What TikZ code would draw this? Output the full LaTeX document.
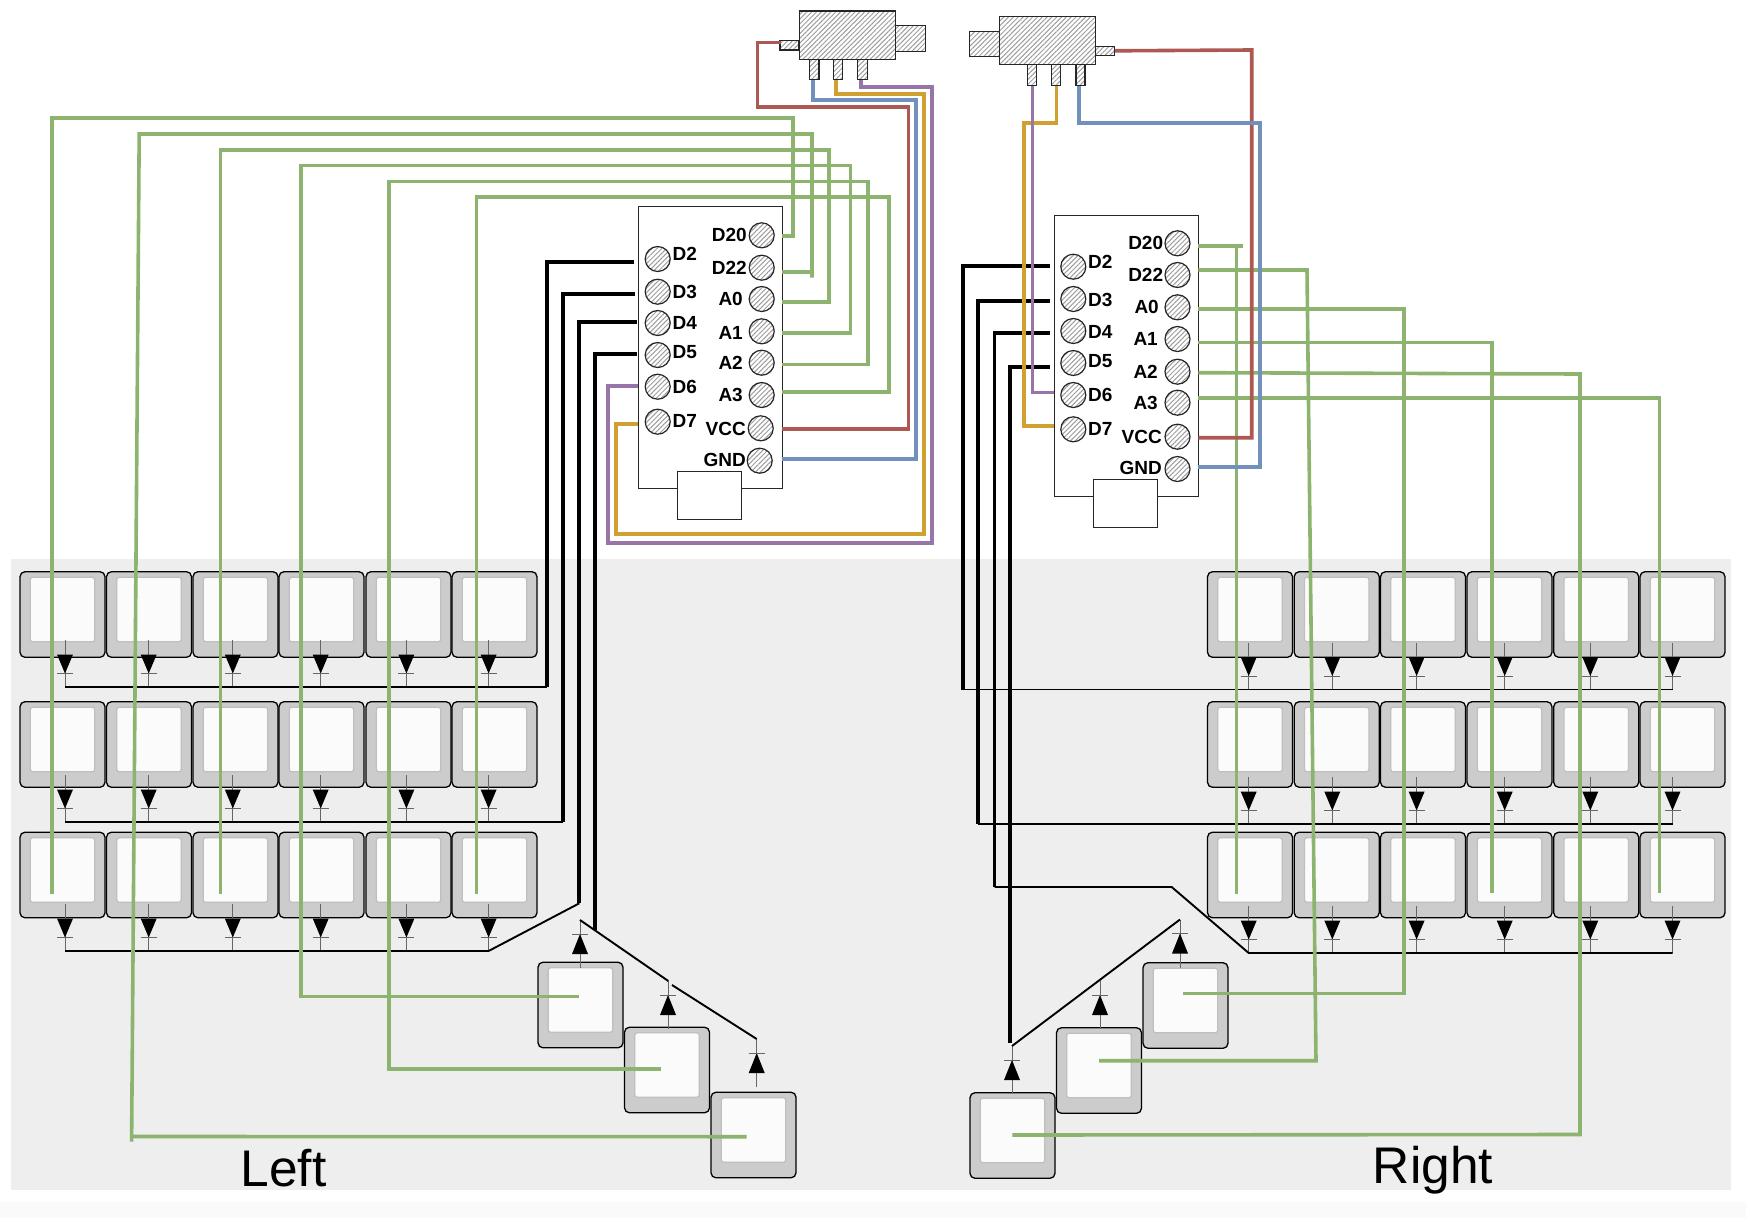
\documentclass[tikz,border=0pt]{standalone}
\usepackage{fontspec}
\setmainfont{Liberation Sans}
\usetikzlibrary{patterns.meta}

\definecolor{wiregreen}{HTML}{8DB46F}
\definecolor{wirered}{HTML}{AD5852}
\definecolor{wireblue}{HTML}{7290BC}
\definecolor{wireorange}{HTML}{D0A030}
\definecolor{wirepurple}{HTML}{9775A8}

\tikzset{
    keycap/.style={draw=black, line width=1.3pt, fill=black!20, rounded corners=5pt, inner sep=0pt, minimum width=85pt, minimum height=85.6pt},
    keytop/.style={draw=black!25, line width=1.2pt, fill=black!1.5, rounded corners=2.5pt, inner sep=0pt, minimum width=64.5pt, minimum height=64.5pt},
    hatchbox/.style={draw=black!85, line width=1.1pt, inner sep=0pt, preaction={fill=white}, pattern={Lines[angle=45,distance=3.4pt,line width=1pt]}, pattern color=black!38},
    pinpad/.style={hatchbox, circle, line width=1.2pt, minimum size=25pt},
    pinname/.style={inner sep=0pt, font=\bfseries\fontsize{19}{19}\selectfont},
    sidename/.style={inner sep=0pt, anchor=base, font=\fontsize{51.5}{51.5}\selectfont},
    board/.style={draw=black!85, line width=1pt, fill=white, inner sep=0pt},
    diodestem/.style={draw=black!60, line width=1pt},
    rowline/.style={draw=black, line width=1.9pt},
    heavyline/.style={draw=black, line width=3.8pt},
    greenwire/.style={draw=wiregreen, line width=3.6pt},
    redwire/.style={draw=wirered, line width=3.6pt},
    bluewire/.style={draw=wireblue, line width=3.6pt},
    orangewire/.style={draw=wireorange, line width=3.6pt},
    purplewire/.style={draw=wirepurple, line width=3.6pt}
}

\newcommand{\kbkey}[3]{%
    \node[keycap] (#1) at (#2,#3) {};
    \node[keytop] (#1t) at (#2,#3-5) {};
}
\newcommand{\downdiode}[3]{%
    \draw[diodestem] (#2,#3) -- (#2,#3+47);
    \fill (#2-8,#3+14.5) -- (#2+8,#3+14.5) -- (#2,#3+33.5) -- cycle;
    \draw[diodestem] (#2-8,#3+33.5) -- (#2+8,#3+33.5);
    \coordinate (#1) at (#2,#3+47);
}
\newcommand{\updiode}[3]{%
    \draw[diodestem] (#2,#3) -- (#2,#3+48);
    \fill (#2-8,#3+34) -- (#2+8,#3+34) -- (#2,#3+14) -- cycle;
    \draw[diodestem] (#2-8,#3+14) -- (#2+8,#3+14);
    \coordinate (#1) at (#2,#3);
}

\begin{document}
\begin{tikzpicture}[x=1pt,y=-1pt]
    \useasboundingbox (0,0) rectangle (1746,1218);

    % Draw the backgrounds
    \fill[black!6.7] (11,558.5) rectangle (1731,1190);
    \fill[black!2] (0,1202) rectangle (1746,1218);

    % Define keys
    \foreach \row/\ky in {1/614.5,2/744.5,3/875}{
        \foreach \col/\kx in {1/62.5,2/149,3/235.5,4/321.5,5/408.5,6/494.5}{
            \kbkey{lk\row\col}{\kx}{\ky}
        }
        \foreach \col/\kx in {1/1250,2/1336.7,3/1423,4/1509.5,5/1596.2,6/1682.5}{
            \kbkey{rk\row\col}{\kx}{\ky}
        }
    }
    \kbkey{lt1}{580.5}{1005}
    \kbkey{lt2}{667}{1070}
    \kbkey{lt3}{753.5}{1135}
    \kbkey{rt1}{1012.5}{1135.5}
    \kbkey{rt2}{1099}{1070.5}
    \kbkey{rt3}{1185.5}{1005.5}

    % Draw diodes
    \foreach \row/\dy in {1/640,2/775,3/904}{
        \foreach \col/\dx in {1/65,2/148.7,3/232.8,4/320.7,5/406.4,6/488.6}{
            \downdiode{ld\row\col}{\dx}{\dy}
        }
    }
    \foreach \row/\dy in {1/642.5,2/777,3/906}{
        \foreach \col/\dx in {1/1248.7,2/1332.3,3/1416.6,4/1504.7,5/1590.3,6/1672.5}{
            \downdiode{rd\row\col}{\dx}{\dy}
        }
    }
    \updiode{ltd1}{580}{920}
    \updiode{ltd2}{668}{981}
    \updiode{ltd3}{756.7}{1039}
    \updiode{rtd1}{1012}{1046}
    \updiode{rtd2}{1100}{981}
    \updiode{rtd3}{1180}{919.5}

    % Define boards
    \node[board, minimum width=144pt, minimum height=281.6pt] (lboard) at (710.3,347.5) {};
    \node[board, minimum width=64pt, minimum height=48pt] (lusb) at (709.7,495) {};
    \node[board, minimum width=144pt, minimum height=281.6pt] (rboard) at (1126.3,355.9) {};
    \node[board, minimum width=64pt, minimum height=48pt] (rusb) at (1125.7,503.2) {};

    % Define pins
    \foreach \nm/\py/\ty in {D2/259/254.3,D3/291.7/291.7,D4/323/323.3,D5/355/352.3,D6/386.7/386.7,D7/421.7/420.7}{
        \node[pinpad] (l\nm) at (657.7,\py) {};
        \node[pinname, anchor=west] (l\nm t) at (672.5,\ty) {\nm};
    }
    \foreach \nm/\px/\py/\tx/\ty in {D20/761.7/235.3/747/235.3,D22/761.7/267.7/747/267.7,A0/761.7/299/743/299,A1/761.7/331.3/743/332.7,A2/761.7/362.7/743/363,A3/761.7/395/743/395,VCC/760.7/428.3/746/429,GND/759.7/460.7/746/460}{
        \node[pinpad] (l\nm) at (\px,\py) {};
        \node[pinname, anchor=east] (l\nm t) at (\tx,\ty) {\nm};
    }
    \foreach \nm/\py/\ty in {D2/266.7/262.3,D3/299/300,D4/331/331.7,D5/363/360.7,D6/395/395,D7/429.3/429.3}{
        \node[pinpad] (r\nm) at (1073.3,\py) {};
        \node[pinname, anchor=west] (r\nm t) at (1088,\ty) {\nm};
    }
    \foreach \nm/\py/\tx/\ty in {D20/243.3/1163.3/243.3,D22/275/1163.3/275,A0/307.3/1159/307.3,A1/339/1158/339,A2/371.7/1158/371.7,A3/402.7/1158/402.7,VCC/436.7/1162/437,GND/469/1162/468}{
        \node[pinpad] (r\nm) at (1177.5,\py) {};
        \node[pinname, anchor=east] (r\nm t) at (\tx,\ty) {\nm};
    }

    % Define switches
    \node[hatchbox, minimum width=96.3pt, minimum height=48.3pt] (lsw) at (847.2,35.1) {};
    \node[hatchbox, minimum width=29.7pt, minimum height=26pt] (lswnub) at (910.2,38.7) {};
    \node[hatchbox, minimum width=19pt, minimum height=9.3pt] (lswterm) at (789.5,45.3) {};
    \node[hatchbox, minimum width=9.5pt, minimum height=20pt] (lswa) at (814.2,69.3) {};
    \node[hatchbox, minimum width=9.5pt, minimum height=20pt] (lswb) at (838,69.3) {};
    \node[hatchbox, minimum width=9.5pt, minimum height=20pt] (lswc) at (862.4,69.3) {};
    \node[hatchbox, minimum width=96pt, minimum height=47.6pt] (rsw) at (1047.3,40.5) {};
    \node[hatchbox, minimum width=30pt, minimum height=25.7pt] (rswnub) at (984.3,43.9) {};
    \node[hatchbox, minimum width=19pt, minimum height=8.5pt] (rswterm) at (1104.8,50.8) {};
    \node[hatchbox, minimum width=9pt, minimum height=20.7pt] (rswa) at (1032.3,74.7) {};
    \node[hatchbox, minimum width=9pt, minimum height=20.7pt] (rswb) at (1056.4,74.7) {};
    \node[hatchbox, minimum width=9pt, minimum height=20.7pt] (rswc) at (1080.5,74.7) {};

    % Define wire ends
    \coordinate (lD2w) at (634.3,262);
    \coordinate (lD3w) at (635,294);
    \coordinate (lD4w) at (637,322);
    \coordinate (lD5w) at (637,354);
    \coordinate (lrow1) at (546.7,687);
    \coordinate (lrow2) at (563,822);
    \coordinate (lrow3) at (579.3,903.3);
    \coordinate (ldrop) at (595,930);
    \coordinate (lbend) at (668.3,981);
    \coordinate (rD2w) at (1050,266);
    \coordinate (rD3w) at (1050,300.7);
    \coordinate (rD4w) at (1050,332.7);
    \coordinate (rD5w) at (1050,366.7);
    \coordinate (rrow1) at (962.7,689.5);
    \coordinate (rrow2) at (978.3,824);
    \coordinate (rrow3) at (994.5,887);
    \coordinate (rdrop) at (1010.3,1043);
    \coordinate (rbend) at (1171.7,887);

    \coordinate (lkw1) at (51.7,894);
    \coordinate (lkw3) at (220.5,894);
    \coordinate (lkw6) at (476.3,894);
    \coordinate (ltw1) at (579,996.5);
    \coordinate (ltw2) at (660.7,1068.7);
    \coordinate (ltw3) at (746.7,1136.7);
    \coordinate (rkw1) at (1236.6,894.3);
    \coordinate (rkw4) at (1492,893.3);
    \coordinate (rkw6) at (1659.4,893.3);
    \coordinate (rtw1) at (1012.3,1135);
    \coordinate (rtw2) at (1099,1060.7);
    \coordinate (rtw3) at (1183.3,993.3);

    % Draw row lines
    \draw[rowline] (ld11) -- (lrow1);
    \draw[rowline] (ld21) -- (lrow2);
    \draw[rowline] (ld31) -- (ld36) -- (lrow3);
    \draw[rowline] (ltd1) -- (lbend);
    \draw[rowline] (672,985) -- (ltd3);
    \draw[rowline] (rrow1) -- (rd16);
    \draw[rowline] (rrow2) -- (rd26);
    \draw[rowline] (rrow3) -- (rbend) -- (rd31) -- (rd36);
    \draw[rowline] (rtd1) -- (rtd3);
    \draw[heavyline] (lD2w) -| (lrow1);
    \draw[heavyline] (lD3w) -| (lrow2);
    \draw[heavyline] (lD4w) -| (lrow3);
    \draw[heavyline] (lD5w) -| (ldrop);
    \draw[heavyline] (rD2w) -| (rrow1);
    \draw[heavyline] (rD3w) -| (rrow2);
    \draw[heavyline] (rD4w) -| (rrow3);
    \draw[heavyline] (rD5w) -| (rdrop);

    % Draw left mappings
    \draw[greenwire] (782.3,235.7) -| (792.7,118) -| (lkw1);
    \draw[greenwire] (782.3,271.7) -- (812,271.7);
    \draw[greenwire] (812,277.7) -- (812,134) -- (139.2,134) -- (131.6,1141.7);
    \draw[greenwire] (131.6,1136.5) -- (ltw3);
    \draw[greenwire] (782.3,302) -| (828.7,149.7) -| (lkw3);
    \draw[greenwire] (782.3,332.7) -| (850.3,165.3) -| (300.7,996.5) -- (ltw1);
    \draw[greenwire] (782.3,364.3) -| (868,181.3) -| (388.7,1068.7) -- (ltw2);
    \draw[greenwire] (782.3,391.7) -| (889,196.7) -| (lkw6);
    \draw[redwire] (782.3,429) -| (908.3,106.7) -| (757.3,42.3) -- (780.7,42.3);
    \draw[bluewire] (782.3,459) -| (916,100) -| ([xshift=-1.5pt]lswa.south);
    \draw[orangewire] (638,424) -| (615.7,534) -| (924,94) -| ([xshift=-2pt]lswb.south);
    \draw[purplewire] (638,386) -| (607.7,542.7) -| (931.7,86.7) -| ([xshift=-1.7pt]lswc.south);

    % Draw right mappings
    \draw[greenwire] (1198.3,246) -- (1243,246);
    \draw[greenwire] (1236.6,246) -- (rkw1);
    \draw[greenwire] (1198.3,270) -- (1307,270) -- (1316,1060.7) -- (rtw2);
    \draw[greenwire] (1198.3,309) -- (1404,309) -- (1404,993.3) -- (rtw3);
    \draw[greenwire] (1198.3,342.3) -| (rkw4);
    \draw[greenwire] (1198.3,372.7) -- (1580,374) -- (1580,1134.5) -- (rtw1);
    \draw[greenwire] (1198.3,398) -| (rkw6);
    \draw[redwire] (1198.3,437.7) -| (1251.7,50) -- (rswterm.east);
    \draw[bluewire] (1198.3,466.7) -| (1259.7,122.7) -| ([xshift=-1.7pt]rswc.south);
    \draw[orangewire] (1054.3,425.7) -| (1024,122.7) -| (rswb.south);
    \draw[purplewire] (1054.3,392.3) -| (rswa.south);

    % Name the sides
    \node[sidename] (lname) at (283.5,1186.7) {Left};
    \node[sidename] (rname) at (1433,1183.3) {Right};
\end{tikzpicture}
\end{document}
